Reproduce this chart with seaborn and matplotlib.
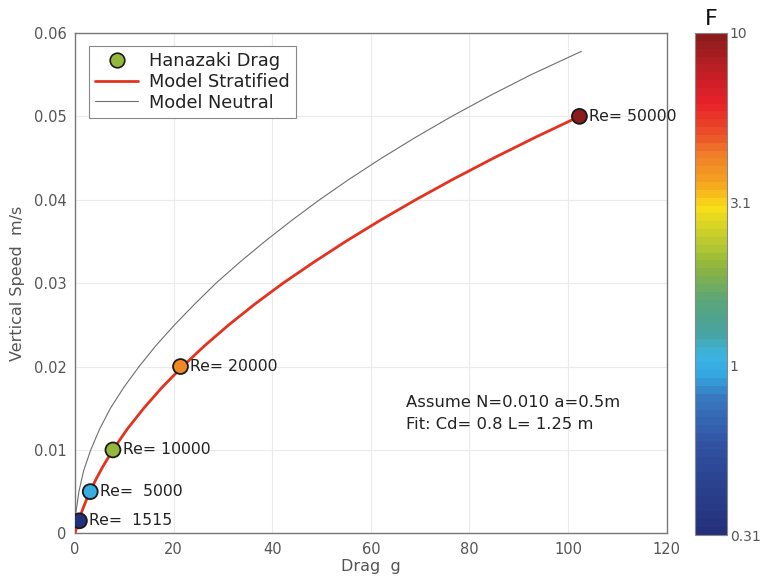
import numpy as np
import pandas as pd
import matplotlib
matplotlib.use("Agg")
import matplotlib.pyplot as plt
from matplotlib.colors import LinearSegmentedColormap, LogNorm
from matplotlib.lines import Line2D
import seaborn as sns

# Hanazaki drag measurements
reynolds = [1515, 5000, 10000, 20000, 50000]
drag_g = [0.9, 3.1, 7.7, 21.4, 102.3]
speed_ms = [0.0015, 0.005, 0.010, 0.020, 0.050]
froude = [0.303, 1.0, 2.0, 4.0, 10.0]

# Model curve, stratified fluid (Cd=0.8, L=1.25 m)
strat_drag = [0, 0.48, 1.03, 1.64, 2.31, 3.05, 4.28, 5.65, 7.7, 10.6, 13.95, 17.66,
              21.8, 26.3, 31.2, 36.5, 42.2, 48.4, 54.9, 61.8, 69.1, 76.8, 84.9, 93.4, 102.3]
strat_speed = [0, 0.0010, 0.0020, 0.0030, 0.0040, 0.0050, 0.0065, 0.0080, 0.0100, 0.0125,
               0.0150, 0.0175, 0.0200, 0.0225, 0.0250, 0.0275, 0.0300, 0.0325, 0.0350,
               0.0375, 0.0400, 0.0425, 0.0450, 0.0475, 0.0500]

# Model curve, neutral fluid
neut_drag = [0, 0.04, 0.2, 0.8, 1.75, 3.2, 5.0, 7.2, 9.9, 13.0, 16.4, 20.2, 24.3, 28.6,
             33.4, 38.5, 43.9, 49.6, 55.7, 62.2, 69.1, 76.4, 84.2, 92.5, 102.7]
neut_speed = [0, 0.0010, 0.0025, 0.0050, 0.0075, 0.0100, 0.0125, 0.0150, 0.0175, 0.0200,
              0.0225, 0.0250, 0.0275, 0.0300, 0.0325, 0.0350, 0.0375, 0.0400, 0.0425,
              0.0450, 0.0475, 0.0500, 0.0525, 0.0550, 0.0578]

x_ticks = [0, 20, 40, 60, 80, 100, 120]
y_ticks = [0, 0.01, 0.02, 0.03, 0.04, 0.05, 0.06]
y_tick_labels = ["0", "0.01", "0.02", "0.03", "0.04", "0.05", "0.06"]
cbar_ticks = [0.31, 1, 3.1, 10]
cbar_tick_labels = ["0.31", "1", "3.1", "10"]

sns.set_theme(style="white")
plt.rcParams["font.family"] = ["DejaVu Sans"]

# Blue-cyan-green-yellow-red colour scale for F
nodes = [
    (0.00, "#25307a"), (0.17, "#3050a0"), (0.27, "#3878c0"), (0.315, "#33a7e0"),
    (0.355, "#3bb5e3"), (0.40, "#47a3a0"), (0.468, "#5ba57a"), (0.534, "#8fb63c"),
    (0.58, "#b5c832"), (0.653, "#f7e017"), (0.70, "#f6a81e"), (0.767, "#ee7a2a"),
    (0.80, "#ea5228"), (0.867, "#e8202a"), (0.926, "#c21f25"), (1.00, "#8c1c1c"),
]
cmap = LinearSegmentedColormap.from_list("fscale", nodes, N=64)
norm = LogNorm(vmin=0.31, vmax=10)

fig = plt.figure(figsize=(7.61, 5.84), dpi=100)
ax = fig.add_axes([0.0985, 0.0868, 0.7776, 0.8567])
cax = fig.add_axes([0.9139, 0.0839, 0.0414, 0.8596])

red = "#e5321f"
grey = "#6e6e6e"

sns.lineplot(x=neut_drag, y=neut_speed, sort=False, estimator=None, color=grey,
             linewidth=0.8, ax=ax, zorder=2)
sns.lineplot(x=strat_drag, y=strat_speed, sort=False, estimator=None, color=red,
             linewidth=2.0, ax=ax, zorder=3)

pts = pd.DataFrame({"drag": drag_g, "speed": speed_ms, "F": froude, "Re": reynolds})
sns.scatterplot(data=pts, x="drag", y="speed", hue="F", palette=cmap, hue_norm=norm,
                s=115, edgecolor="#1a1a1a", linewidth=1.3, legend=False, ax=ax, zorder=4)

for _, row in pts.iterrows():
    ax.annotate(f"Re= {int(row['Re']):5d}", (row["drag"], row["speed"]),
                xytext=(7, 0), textcoords="offset points", va="center", ha="left",
                fontsize=11.3, color="#222222", zorder=5)

ax.text(67.2, 0.0152, "Assume N=0.010 a=0.5m", fontsize=11.8, color="#222222", va="baseline")
ax.text(67.2, 0.01248, "Fit: Cd= 0.8 L= 1.25 m", fontsize=11.8, color="#222222", va="baseline")

ax.set_xlim(0, 120)
ax.set_ylim(0, 0.06)
ax.set_xticks(x_ticks)
ax.set_xticklabels([str(t) for t in x_ticks])
ax.set_yticks(y_ticks)
ax.set_yticklabels(y_tick_labels)
ax.grid(True, color="#ebebeb", linewidth=0.8)
ax.set_axisbelow(True)
ax.tick_params(direction="in", length=4, width=0.8, color="#777777", labelcolor="#555555",
               labelsize=10.5, top=False, right=False, pad=6)
for sp in ax.spines.values():
    sp.set_color("#777777")
    sp.set_linewidth(1.0)
ax.set_xlabel("Drag  g", fontsize=11.5, color="#555555", labelpad=2)
ax.set_ylabel("Vertical Speed  m/s", fontsize=11.5, color="#555555", labelpad=6)

handles = [
    Line2D([], [], linestyle="none", marker="o", markersize=10.5,
           markerfacecolor=cmap(norm(2.0)), markeredgecolor="#1a1a1a", markeredgewidth=1.2),
    Line2D([], [], color=red, linewidth=2.0),
    Line2D([], [], color=grey, linewidth=0.8),
]
leg = ax.legend(handles, ["Hanazaki Drag", "Model Stratified", "Model Neutral"],
                loc="upper left", bbox_to_anchor=(0.024, 0.974), fontsize=12.8,
                frameon=True, fancybox=False, edgecolor="#888888", framealpha=1,
                borderpad=0.35, labelspacing=0.15, handlelength=2.4, handletextpad=0.6,
                borderaxespad=0)
leg.get_frame().set_linewidth(0.8)
for t in leg.get_texts():
    t.set_color("#222222")

sm = matplotlib.cm.ScalarMappable(norm=norm, cmap=cmap)
cb = fig.colorbar(sm, cax=cax)
cb.set_ticks(cbar_ticks)
cb.set_ticklabels(cbar_tick_labels)
cb.ax.minorticks_off()
cb.ax.tick_params(direction="in", length=4, width=0.8, color="#777777",
                  labelcolor="#555555", labelsize=10, pad=2)
cb.outline.set_edgecolor("#888888")
cb.outline.set_linewidth(0.8)
cax.set_title("F", fontsize=16, color="#111111", pad=6)

fig.savefig("out.png", dpi=100)
